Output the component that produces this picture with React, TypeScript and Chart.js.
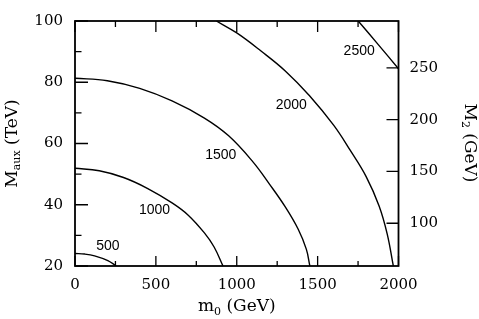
import React, { useEffect, useRef } from 'react';
import { Chart, registerables } from 'chart.js';

Chart.register(...registerables);

// Axis ticks
const X_TICKS = [0, 500, 1000, 1500, 2000];
const X_MINOR = [250, 750, 1250, 1750];
const Y_TICKS = [20, 40, 60, 80, 100];
const Y_MINOR = [30, 50, 70, 90];
const Y2_TICKS = [100, 150, 200, 250];

// Contour levels and their traced curves (m0 in GeV, M_aux in TeV)
const CONTOUR_LEVELS = ['500', '1000', '1500', '2000', '2500'];
const M0_500 = [0, 60, 121, 203, 255];
const MAUX_500 = [24.1, 23.9, 23.3, 21.75, 20];
const M0_1000 = [0, 150, 300, 450, 600, 700, 800, 860, 915];
const MAUX_1000 = [51.9, 51.1, 48.9, 45.3, 40.6, 36.6, 30.8, 26.2, 20];
const M0_1500 = [0, 200, 400, 600, 800, 950, 1100, 1200, 1300, 1380, 1430, 1452];
const MAUX_1500 = [81.3, 80.5, 78.0, 73.9, 68.3, 62.5, 54.0, 46.9, 39.3, 32.0, 25.5, 20];
const M0_2000 = [874, 1000, 1150, 1300, 1450, 1600, 1700, 1800, 1880, 1930, 1968];
const MAUX_2000 = [100, 96.1, 90.2, 83.7, 75.6, 65.9, 57.9, 49.2, 39.6, 30.5, 20];
const M0_2500 = [1751, 1875, 2000];
const MAUX_2500 = [100, 92.3, 84.4];

// Contour label anchors (data units)
const LABEL_M0 = [203, 492, 901, 1337, 1757];
const LABEL_MAUX = [26.4, 38.3, 56.2, 72.4, 90.0];

const CURVES_M0 = [M0_500, M0_1000, M0_1500, M0_2000, M0_2500];
const CURVES_MAUX = [MAUX_500, MAUX_1000, MAUX_1500, MAUX_2000, MAUX_2500];

type Part = [string, string, number];

function drawParts(ctx: CanvasRenderingContext2D, parts: Part[]) {
  let w = 0;
  for (const [t, f] of parts) {
    ctx.font = f;
    w += ctx.measureText(t).width;
  }
  let x = -w / 2;
  for (const [t, f, dy] of parts) {
    ctx.font = f;
    ctx.fillText(t, x, dy);
    x += ctx.measureText(t).width;
  }
}

const decorPlugin = {
  id: 'decor',
  afterDraw(chart: any) {
    const { ctx, chartArea: a, scales } = chart;
    const xs = scales.x;
    const ys = scales.y;
    const y2s = scales.y2;
    ctx.save();
    ctx.strokeStyle = '#000';
    ctx.fillStyle = '#000';
    ctx.lineWidth = 1.8;
    ctx.strokeRect(a.left, a.top, a.right - a.left, a.bottom - a.top);

    ctx.lineWidth = 1.3;
    ctx.beginPath();
    for (const v of X_TICKS) {
      const px = xs.getPixelForValue(v);
      ctx.moveTo(px, a.bottom); ctx.lineTo(px, a.bottom - 10);
      ctx.moveTo(px, a.top); ctx.lineTo(px, a.top + 11);
    }
    for (const v of X_MINOR) {
      const px = xs.getPixelForValue(v);
      ctx.moveTo(px, a.bottom); ctx.lineTo(px, a.bottom - 5);
      ctx.moveTo(px, a.top); ctx.lineTo(px, a.top + 6);
    }
    for (const v of Y_TICKS) {
      const py = ys.getPixelForValue(v);
      ctx.moveTo(a.left, py); ctx.lineTo(a.left + 13, py);
    }
    for (const v of Y_MINOR) {
      const py = ys.getPixelForValue(v);
      ctx.moveTo(a.left, py); ctx.lineTo(a.left + 6.5, py);
    }
    for (const v of Y2_TICKS) {
      const py = y2s.getPixelForValue(v);
      ctx.moveTo(a.right, py); ctx.lineTo(a.right - 12, py);
    }
    ctx.stroke();

    // contour labels
    ctx.textAlign = 'center';
    ctx.textBaseline = 'middle';
    ctx.font = '14px "Liberation Sans"';
    CONTOUR_LEVELS.forEach((t, i) => {
      ctx.fillText(t, xs.getPixelForValue(LABEL_M0[i]), ys.getPixelForValue(LABEL_MAUX[i]));
    });

    // axis titles
    ctx.textAlign = 'left';
    ctx.textBaseline = 'alphabetic';
    const big = '17px "DejaVu Serif"';
    const small = '11px "DejaVu Serif"';

    ctx.save();
    ctx.translate((a.left + a.right) / 2, 311);
    drawParts(ctx, [['m', big, 0], ['0', small, 3.5], [' (GeV)', big, 0]]);
    ctx.restore();

    ctx.save();
    ctx.translate(16.5, (a.top + a.bottom) / 2);
    ctx.rotate(-Math.PI / 2);
    drawParts(ctx, [['M', big, 0], ['aux', small, 3], [' (TeV)', big, 0]]);
    ctx.restore();

    ctx.save();
    ctx.translate(465, 143);
    ctx.rotate(Math.PI / 2);
    drawParts(ctx, [['M', big, 0], ['2', small, 3.5], [' (GeV)', big, 0]]);
    ctx.restore();

    ctx.restore();
  },
};

export default function App() {
  const ref = useRef<HTMLCanvasElement | null>(null);
  useEffect(() => {
    if (!ref.current) return;
    const tickFont = { family: 'DejaVu Serif', size: 15 };
    const fmt = (v: any) => String(v);
    const datasets = CONTOUR_LEVELS.map((lvl, i) => ({
      label: lvl,
      data: CURVES_M0[i].map((m, j) => ({ x: m, y: CURVES_MAUX[i][j] })),
      showLine: true,
      fill: false,
      borderColor: '#000',
      borderWidth: 1.4,
      pointRadius: 0,
      tension: 0.4,
      yAxisID: 'y',
    }));
    const chart = new Chart(ref.current, {
      type: 'scatter',
      data: { datasets },
      plugins: [decorPlugin],
      options: {
        animation: false,
        responsive: true,
        maintainAspectRatio: false,
        layout: { padding: { top: 6, left: 0, right: 0, bottom: 0 } },
        plugins: { legend: { display: false }, tooltip: { enabled: false } },
        scales: {
          x: {
            type: 'linear',
            position: 'bottom',
            min: 0,
            max: 2000,
            grid: { display: false, drawTicks: false },
            border: { display: false },
            ticks: { color: '#000', font: tickFont, padding: 10, maxRotation: 0, callback: fmt },
            afterBuildTicks: (s: any) => { s.ticks = X_TICKS.map((v) => ({ value: v })); },
            afterFit: (s: any) => { s.height = 53; },
          },
          y: {
            type: 'linear',
            position: 'left',
            min: 20,
            max: 100,
            grid: { display: false, drawTicks: false },
            border: { display: false },
            ticks: { color: '#000', font: tickFont, padding: 12, callback: fmt },
            afterBuildTicks: (s: any) => { s.ticks = Y_TICKS.map((v) => ({ value: v })); },
            afterFit: (s: any) => { s.width = 75; },
          },
          y2: {
            type: 'linear',
            position: 'right',
            min: 58.7,
            max: 295.3,
            grid: { display: false, drawTicks: false },
            border: { display: false },
            ticks: { color: '#000', font: tickFont, padding: 11, callback: fmt },
            afterBuildTicks: (s: any) => { s.ticks = Y2_TICKS.map((v) => ({ value: v })); },
            afterFit: (s: any) => { s.width = 80.5; },
          },
        },
      } as any,
    });
    return () => chart.destroy();
  }, []);
  return (
    <div style={{ position: 'fixed', left: 0, top: 0, width: 479, height: 319, background: '#fff' }}>
      <canvas ref={ref} />
    </div>
  );
}
